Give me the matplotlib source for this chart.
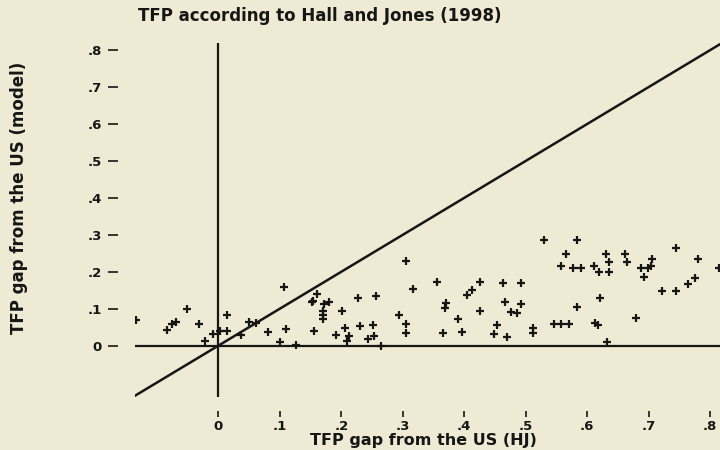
import numpy as np
import matplotlib
matplotlib.use("Agg")
import matplotlib.pyplot as plt
from matplotlib.ticker import FuncFormatter

# TFP gap from the US: Hall & Jones (x) vs model (y)
gap_hj = [-0.134, -0.083, -0.076, -0.069, -0.051, -0.031, -0.021, -0.008, 0.002, 0.015,
          0.015, 0.037, 0.050, 0.061, 0.081, 0.100, 0.107, 0.110, 0.127, 0.152,
          0.154, 0.160, 0.156, 0.172, 0.180, 0.171, 0.170, 0.170, 0.201, 0.191,
          0.206, 0.213, 0.210, 0.227, 0.230, 0.251, 0.254, 0.244, 0.257, 0.264,
          0.305, 0.317, 0.294, 0.306, 0.305, 0.355, 0.370, 0.369, 0.365, 0.390,
          0.397, 0.405, 0.413, 0.425, 0.426, 0.463, 0.466, 0.476, 0.485, 0.454,
          0.448, 0.469, 0.492, 0.492, 0.530, 0.583, 0.565, 0.557, 0.577, 0.589,
          0.611, 0.619, 0.630, 0.636, 0.636, 0.662, 0.665, 0.621, 0.584, 0.511,
          0.511, 0.546, 0.557, 0.570, 0.613, 0.618, 0.632, 0.688, 0.699, 0.705,
          0.703, 0.693, 0.744, 0.780, 0.814, 0.721, 0.744, 0.764, 0.775, 0.679]
gap_model = [0.070, 0.042, 0.060, 0.064, 0.099, 0.060, 0.014, 0.031, 0.039, 0.083,
             0.040, 0.028, 0.065, 0.062, 0.036, 0.011, 0.160, 0.044, 0.003, 0.117,
             0.122, 0.140, 0.039, 0.114, 0.118, 0.095, 0.083, 0.072, 0.094, 0.028,
             0.049, 0.026, 0.013, 0.129, 0.053, 0.056, 0.026, 0.018, 0.134, -0.002,
             0.229, 0.153, 0.083, 0.058, 0.034, 0.172, 0.116, 0.102, 0.034, 0.072,
             0.038, 0.137, 0.150, 0.171, 0.094, 0.170, 0.117, 0.092, 0.088, 0.056,
             0.032, 0.024, 0.170, 0.114, 0.287, 0.287, 0.248, 0.216, 0.209, 0.209,
             0.216, 0.200, 0.248, 0.227, 0.200, 0.247, 0.226, 0.128, 0.106, 0.049,
             0.035, 0.058, 0.058, 0.058, 0.062, 0.056, 0.011, 0.209, 0.209, 0.235,
             0.216, 0.185, 0.265, 0.234, 0.209, 0.148, 0.148, 0.166, 0.184, 0.076]

ticks = [0, 0.1, 0.2, 0.3, 0.4, 0.5, 0.6, 0.7, 0.8]
xlim = (-0.1354, 0.8158)
ylim = (-0.1388, 0.819)

bg = "#eeead3"
ink = "#161616"

plt.rcParams['font.family'] = ['DejaVu Sans']

fig = plt.figure(figsize=(7.2, 4.5), dpi=100, facecolor=bg)
ax = fig.add_axes([135 / 720, 53 / 450, 585 / 720, 354 / 450])
ax.set_facecolor(bg)

# reference lines: axes through origin and 45 degree line
ax.axhline(0, color=ink, lw=1.6)
ax.axvline(0, color=ink, lw=1.6)
ax.plot(xlim, xlim, color=ink, lw=1.8)

ax.plot(gap_hj, gap_model, linestyle="none", marker="+", ms=6, mew=1.6, color=ink)

ax.set_xlim(xlim)
ax.set_ylim(ylim)

for s in ax.spines.values():
    s.set_visible(False)
ax.spines['left'].set_position(('outward', 12))
ax.spines['bottom'].set_position(('outward', 10))

fmt = FuncFormatter(lambda v, p: "0" if abs(v) < 1e-9 else ("%.1f" % v).lstrip("0"))
ax.set_xticks(ticks)
ax.set_yticks(ticks)
ax.xaxis.set_major_formatter(fmt)
ax.yaxis.set_major_formatter(fmt)
ax.tick_params(axis='y', length=7, width=1.2, pad=5, colors=ink, labelsize=9.5)
ax.tick_params(axis='x', length=4.5, width=1.2, pad=2, colors=ink, labelsize=9.5)
for lab in ax.get_xticklabels() + ax.get_yticklabels():
    lab.set_fontweight('bold')

fig.text(320 / 720, 1 - 16 / 450, "TFP according to Hall and Jones (1998)",
         ha="center", va="center", fontsize=12, fontweight="bold", color=ink)
fig.text(423 / 720, 1 - 441 / 450, "TFP gap from the US (HJ)",
         ha="center", va="center", fontsize=11.5, fontweight="bold", color=ink)
fig.text(19 / 720, 1 - 198 / 450, "TFP gap from the US (model)", rotation=90,
         ha="center", va="center", fontsize=12, fontweight="bold", color=ink)

plt.savefig("out.png", dpi=100, facecolor=bg)
plt.close()
